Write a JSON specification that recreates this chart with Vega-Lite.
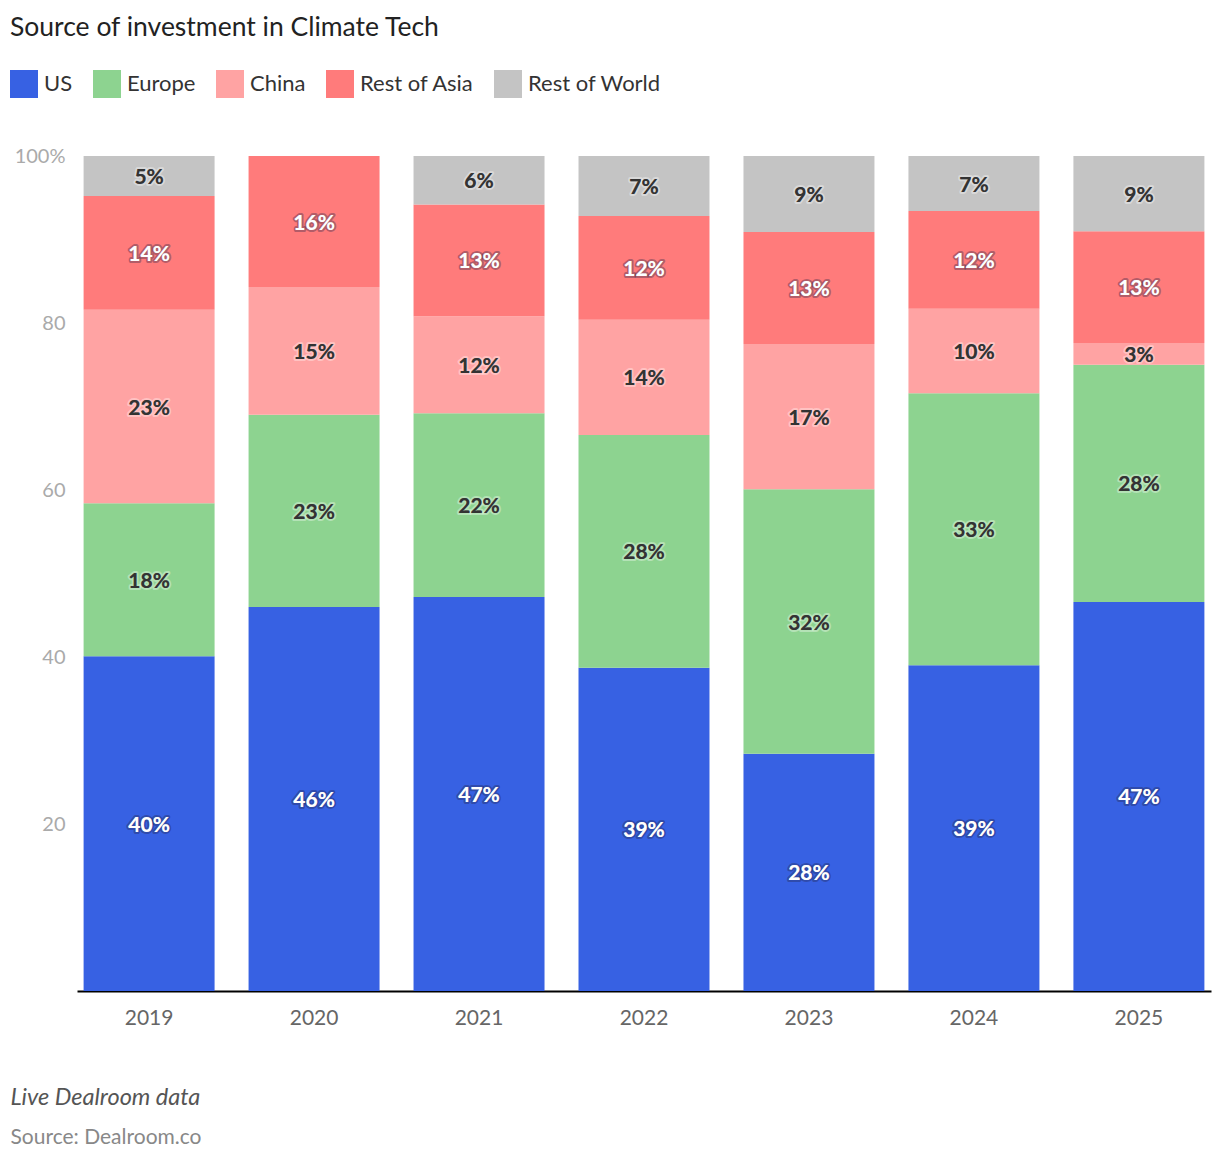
{
  "$schema": "https://vega.github.io/schema/vega-lite/v6.json",
  "width": 1134,
  "height": 835,
  "autosize": {"type": "none"},
  "padding": {"left": 77, "top": 156, "right": 9, "bottom": 167},
  "background": "white",
  "config": {
    "font": "Lato",
    "view": {"stroke": null}
  },
  "title": {
    "text": "Source of investment in Climate Tech",
    "anchor": "start",
    "dx": 0,
    "offset": 8,
    "baseline": "alphabetic",
    "fontSize": 26.5,
    "fontWeight": "normal",
    "font": "Lato",
    "color": "#222222"
  },
  "data": {
    "values": [
      {"year": "2019", "region": "US", "value": 40.1},
      {"year": "2019", "region": "Europe", "value": 18.3},
      {"year": "2019", "region": "China", "value": 23.2},
      {"year": "2019", "region": "Rest of Asia", "value": 13.6},
      {"year": "2019", "region": "Rest of World", "value": 4.8},
      {"year": "2020", "region": "US", "value": 46.0},
      {"year": "2020", "region": "Europe", "value": 23.0},
      {"year": "2020", "region": "China", "value": 15.3},
      {"year": "2020", "region": "Rest of Asia", "value": 15.7},
      {"year": "2020", "region": "Rest of World", "value": 0},
      {"year": "2021", "region": "US", "value": 47.2},
      {"year": "2021", "region": "Europe", "value": 22.0},
      {"year": "2021", "region": "China", "value": 11.6},
      {"year": "2021", "region": "Rest of Asia", "value": 13.4},
      {"year": "2021", "region": "Rest of World", "value": 5.8},
      {"year": "2022", "region": "US", "value": 38.7},
      {"year": "2022", "region": "Europe", "value": 27.9},
      {"year": "2022", "region": "China", "value": 13.8},
      {"year": "2022", "region": "Rest of Asia", "value": 12.4},
      {"year": "2022", "region": "Rest of World", "value": 7.2},
      {"year": "2023", "region": "US", "value": 28.4},
      {"year": "2023", "region": "Europe", "value": 31.7},
      {"year": "2023", "region": "China", "value": 17.4},
      {"year": "2023", "region": "Rest of Asia", "value": 13.4},
      {"year": "2023", "region": "Rest of World", "value": 9.1},
      {"year": "2024", "region": "US", "value": 39.0},
      {"year": "2024", "region": "Europe", "value": 32.6},
      {"year": "2024", "region": "China", "value": 10.1},
      {"year": "2024", "region": "Rest of Asia", "value": 11.7},
      {"year": "2024", "region": "Rest of World", "value": 6.6},
      {"year": "2025", "region": "US", "value": 46.6},
      {"year": "2025", "region": "Europe", "value": 28.4},
      {"year": "2025", "region": "China", "value": 2.6},
      {"year": "2025", "region": "Rest of Asia", "value": 13.4},
      {"year": "2025", "region": "Rest of World", "value": 9.0}
    ]
  },
  "transform": [
    {"stack": "value", "groupby": ["year"], "sort": [], "as": ["v0", "v1"]},
    {"calculate": "(datum.v0 + datum.v1) / 2", "as": "mid"},
    {"calculate": "format(datum.value, '.0f') + '%'", "as": "label"}
  ],
  "encoding": {
    "x": {
      "field": "year",
      "type": "nominal",
      "scale": {"paddingInner": 0.206, "paddingOuter": 0.04},
      "axis": {
        "labelAngle": 0,
        "labelFontSize": 21,
        "labelColor": "#666666",
        "labelPadding": 16,
        "ticks": false,
        "domainColor": "#000000",
        "domainWidth": 2,
        "title": "Live Dealroom data",
        "titleFontStyle": "italic",
        "titleFontWeight": "normal",
        "titleFontSize": 23.5,
        "titleColor": "#555555",
        "titleX": -67,
        "titleY": 113,
        "titleAlign": "left",
        "titleAnchor": "start",
        "titleBaseline": "alphabetic"
      }
    }
  },
  "layer": [
    {
      "mark": {"type": "bar"},
      "encoding": {
        "y": {
          "field": "v0",
          "type": "quantitative",
          "scale": {"domain": [0, 100]},
          "axis": {
            "values": [0, 20, 40, 60, 80, 100],
            "labelExpr": "datum.value == 100 ? '100%' : datum.value == 0 ? '' : datum.label",
            "labelFontSize": 20,
            "labelColor": "#aaaaaa",
            "labelPadding": 12,
            "ticks": false,
            "domain": false,
            "grid": false,
            "title": "Source: Dealroom.co",
            "titleAngle": 0,
            "titleFontWeight": "normal",
            "titleFontSize": 21,
            "titleColor": "#888888",
            "titleX": -67,
            "titleY": 987,
            "titleAlign": "left",
            "titleBaseline": "alphabetic"
          }
        },
        "y2": {"field": "v1"},
        "color": {
          "field": "region",
          "type": "nominal",
          "scale": {
            "domain": ["US", "Europe", "China", "Rest of Asia", "Rest of World"],
            "range": ["#3761e3", "#8dd390", "#ffa3a3", "#ff7b7b", "#c4c4c4"]
          },
          "legend": {
            "title": null,
            "orient": "none",
            "direction": "horizontal",
            "legendX": -67,
            "legendY": -86,
            "padding": 0,
            "symbolType": "square",
            "symbolSize": 784,
            "symbolStrokeWidth": 0,
            "symbolOpacity": 1,
            "labelFontSize": 22,
            "labelColor": "#333333",
            "labelOffset": 6,
            "columnPadding": 20
          }
        }
      }
    },
    {
      "transform": [{"filter": "datum.value >= 1"}],
      "mark": {"type": "text", "fontSize": 21, "fontWeight": "bold", "dy": 2, "strokeWidth": 4, "strokeOpacity": 0.35, "strokeJoin": "round"},
      "encoding": {
        "y": {"field": "mid", "type": "quantitative"},
        "text": {"field": "label"},
        "color": {
          "condition": {"test": "datum.region === 'US' || datum.region === 'Rest of Asia'", "value": "#ffffff"},
          "value": "#333333"
        },
        "stroke": {
          "condition": {"test": "datum.region === 'US' || datum.region === 'Rest of Asia'", "value": "#222244"},
          "value": "#ffffff"
        }
      }
    },
    {
      "transform": [{"filter": "datum.value >= 1"}],
      "mark": {"type": "text", "fontSize": 21, "fontWeight": "bold", "dy": 2},
      "encoding": {
        "y": {"field": "mid", "type": "quantitative"},
        "text": {"field": "label"},
        "color": {
          "condition": {"test": "datum.region === 'US' || datum.region === 'Rest of Asia'", "value": "#ffffff"},
          "value": "#333333"
        }
      }
    }
  ]
}
